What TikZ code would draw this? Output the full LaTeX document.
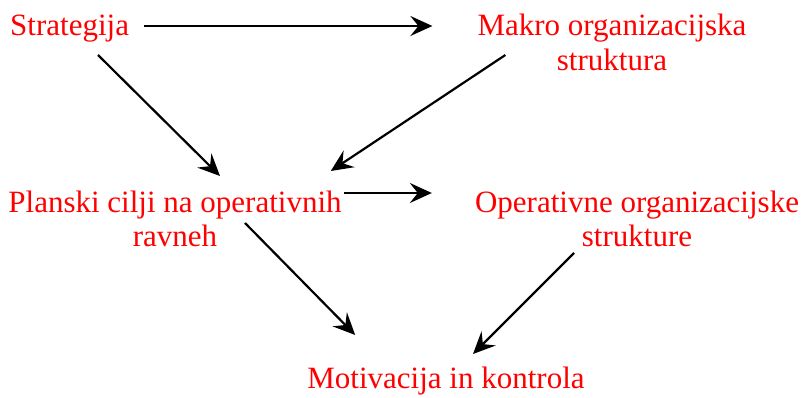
\documentclass[tikz,border=0pt]{standalone}
\usepackage{fontspec}
\setmainfont{Liberation Serif}
\usepackage{tikz}
\usetikzlibrary{arrows.meta,calc}

\begin{document}
\begin{tikzpicture}[
  x=1pt, y=1pt,
  font=\fontsize{31}{35}\selectfont,
  lbl/.style={text=red, inner sep=0pt, align=center},
  arr/.style={-{Stealth[length=22pt, width=20pt, inset=8pt]}, line width=2.2pt}
]
  \useasboundingbox (0,0) rectangle (803,-398);
  \node[lbl, anchor=base west] (strat) at (10,-36) {Strategija};
  \node[lbl, anchor=base] (makro) at (612,-71) {Makro organizacijska\\struktura};
  \node[lbl, anchor=base] (plan) at (175,-247) {Planski cilji na operativnih\\ravneh};
  \node[lbl, anchor=base] (oper) at (637,-247) {Operativne organizacijske\\strukture};
  \node[lbl, anchor=base] (motiv) at (446,-388) {Motivacija in kontrola};
  \draw[arr] ($(strat.base east)+(15,10)$) -- ($(makro.base west)+(-45,45)$);
  \draw[arr] ($(makro.base west)+(28,16)$) -- ($(plan.base east)+(-11,76)$);
  \draw[arr] ($(strat.base west)+(88,-19)$) -- ($(plan.base)+(45,71)$);
  \draw[arr] ($(plan.base east)+(2,54)$) -- ($(oper.base west)+(-43,54)$);
  \draw[arr] ($(plan.base)+(70,24)$) -- ($(motiv.base west)+(48,53)$);
  \draw[arr] ($(oper.base)+(-63,-6)$) -- ($(motiv.base)+(27,34)$);
\end{tikzpicture}
\end{document}
